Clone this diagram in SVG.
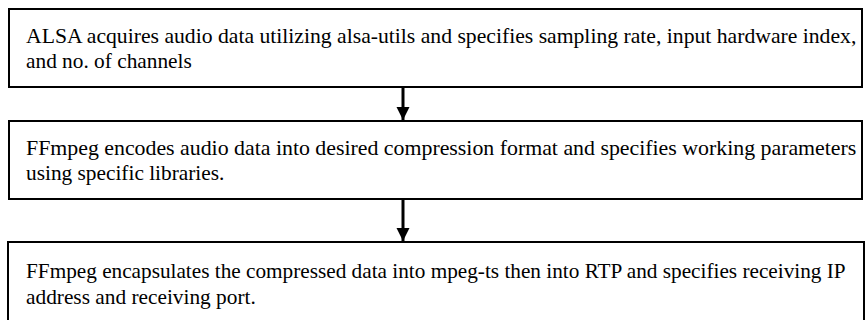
<svg xmlns="http://www.w3.org/2000/svg" width="867" height="320" viewBox="0 0 867 320">
<style>
.box{fill:#fff;stroke:#000;stroke-width:2}
.t{font-family:"Liberation Serif","Times New Roman",serif;font-size:22px;fill:#000}
.conn{stroke:#000;stroke-width:3;fill:none}
</style>
<defs>
<marker id="ah" viewBox="0 0 10 10" refX="10" refY="5" markerWidth="4.5" markerHeight="4.5" orient="auto" markerUnits="strokeWidth">
<path d="M0,0 L10,5 L0,10 z" fill="#000"/>
</marker>
</defs>
<rect width="867" height="320" fill="#fff"/>
<g id="node1">
<rect class="box" x="9" y="9" width="853" height="78"/>
<g transform="translate(26,43) scale(0.97,1)">
<text class="t" x="0" y="0" textLength="856" lengthAdjust="spacingAndGlyphs">ALSA acquires audio data utilizing  alsa-utils and specifies  sampling rate, input hardware index,</text>
<text class="t" x="0" y="25">and  no. of channels</text>
</g>
</g>
<g id="node2">
<rect class="box" x="9" y="121" width="853" height="78"/>
<g transform="translate(26,155) scale(0.97,1)">
<text class="t" x="0" y="0" textLength="856" lengthAdjust="spacingAndGlyphs">FFmpeg encodes audio data into desired compression format and specifies working parameters</text>
<text class="t" x="0" y="25">using specific libraries.</text>
</g>
</g>
<g id="node3">
<rect class="box" x="8" y="242" width="856" height="80"/>
<g transform="translate(26,278) scale(0.97,1)">
<text class="t" x="0" y="0" textLength="845" lengthAdjust="spacingAndGlyphs">FFmpeg encapsulates the compressed data into mpeg-ts then into RTP and specifies receiving IP</text>
<text class="t" x="0" y="26">address and receiving port.</text>
</g>
</g>
<g id="connectors">
<line class="conn" x1="403" y1="87" x2="403" y2="120" marker-end="url(#ah)"/>
<line class="conn" x1="403" y1="199" x2="403" y2="241" marker-end="url(#ah)"/>
</g>
</svg>
